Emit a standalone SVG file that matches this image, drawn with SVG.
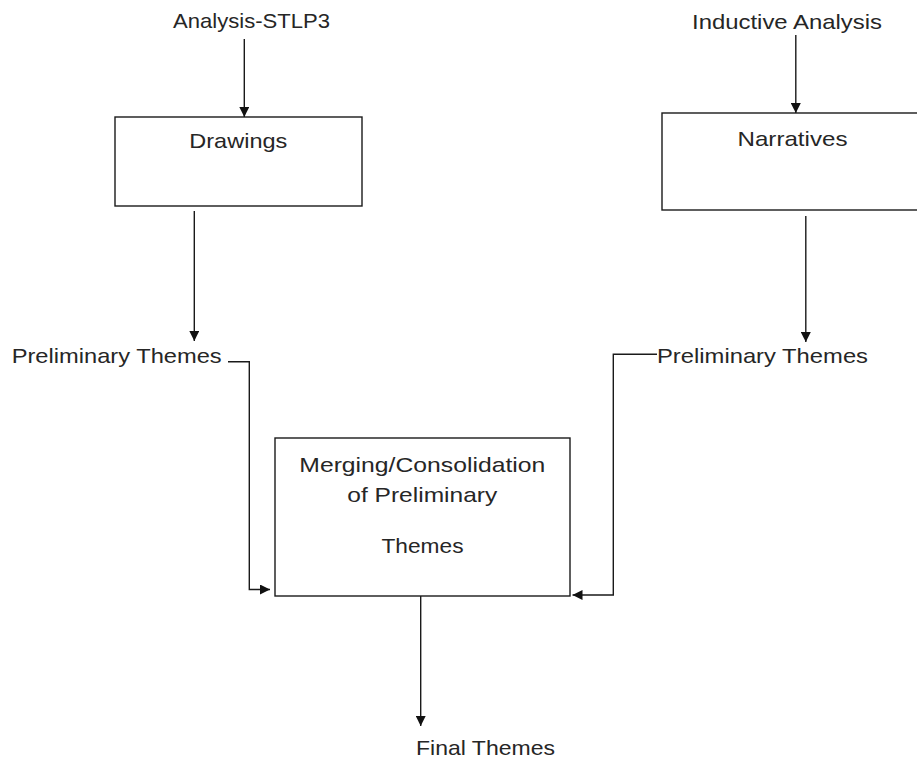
<svg xmlns="http://www.w3.org/2000/svg" width="917" height="758" viewBox="0 0 917 758">
  <style>
    .box { fill: #ffffff; stroke: #1a1a1a; stroke-width: 1.4; }
    .lbl { font-family: "Liberation Sans", Arial, sans-serif; font-size: 21px; fill: #262626; }
    .mid { text-anchor: middle; }
    .wire { fill: none; stroke: #1a1a1a; stroke-width: 1.4; }
  </style>
  <defs>
    <marker id="arrow" viewBox="0 0 10 10" refX="10" refY="5" markerWidth="10" markerHeight="10" markerUnits="userSpaceOnUse" orient="auto">
      <path d="M0,0 L10,5 L0,10 Z" fill="#111"/>
    </marker>
  </defs>
  <rect width="917" height="758" fill="#ffffff"/>

  <g id="analysis-stlp3">
    <text class="lbl mid" x="251.5" y="28" textLength="157" lengthAdjust="spacingAndGlyphs">Analysis-STLP3</text>
  </g>
  <g id="inductive-analysis">
    <text class="lbl mid" x="787" y="29" textLength="190" lengthAdjust="spacingAndGlyphs">Inductive Analysis</text>
  </g>
  <g id="drawings">
    <rect class="box" x="115" y="117" width="247" height="89"/>
    <text class="lbl mid" x="238.3" y="148" textLength="98" lengthAdjust="spacingAndGlyphs">Drawings</text>
  </g>
  <g id="narratives">
    <rect class="box" x="662" y="113" width="262" height="97"/>
    <text class="lbl mid" x="792.5" y="146" textLength="110" lengthAdjust="spacingAndGlyphs">Narratives</text>
  </g>
  <g id="prelim-left">
    <text class="lbl" x="11.7" y="363" textLength="210" lengthAdjust="spacingAndGlyphs">Preliminary Themes</text>
  </g>
  <g id="prelim-right">
    <text class="lbl" x="657" y="363" textLength="211" lengthAdjust="spacingAndGlyphs">Preliminary Themes</text>
  </g>
  <g id="merging">
    <rect class="box" x="275" y="438" width="295" height="158"/>
    <text class="lbl mid" x="422.3" y="472" textLength="246" lengthAdjust="spacingAndGlyphs">Merging/Consolidation</text>
    <text class="lbl mid" x="422.3" y="502" textLength="150" lengthAdjust="spacingAndGlyphs">of Preliminary</text>
    <text class="lbl mid" x="422.5" y="553" textLength="82" lengthAdjust="spacingAndGlyphs">Themes</text>
  </g>
  <g id="final-themes">
    <text class="lbl" x="416" y="755" textLength="139" lengthAdjust="spacingAndGlyphs">Final Themes</text>
  </g>

  <g id="connectors">
    <line class="wire" x1="244.3" y1="39" x2="244.3" y2="117" marker-end="url(#arrow)"/>
    <line class="wire" x1="795.8" y1="35" x2="795.8" y2="113" marker-end="url(#arrow)"/>
    <line class="wire" x1="194.3" y1="211" x2="194.3" y2="341" marker-end="url(#arrow)"/>
    <line class="wire" x1="805.8" y1="216" x2="805.8" y2="342" marker-end="url(#arrow)"/>
    <polyline class="wire" points="228,361.7 249.3,361.7 249.3,589.5 270,589.5" marker-end="url(#arrow)"/>
    <polyline class="wire" points="657,354.3 613.3,354.3 613.3,595 572.5,595" marker-end="url(#arrow)"/>
    <line class="wire" x1="420.7" y1="596" x2="420.7" y2="726" marker-end="url(#arrow)"/>
  </g>
</svg>
